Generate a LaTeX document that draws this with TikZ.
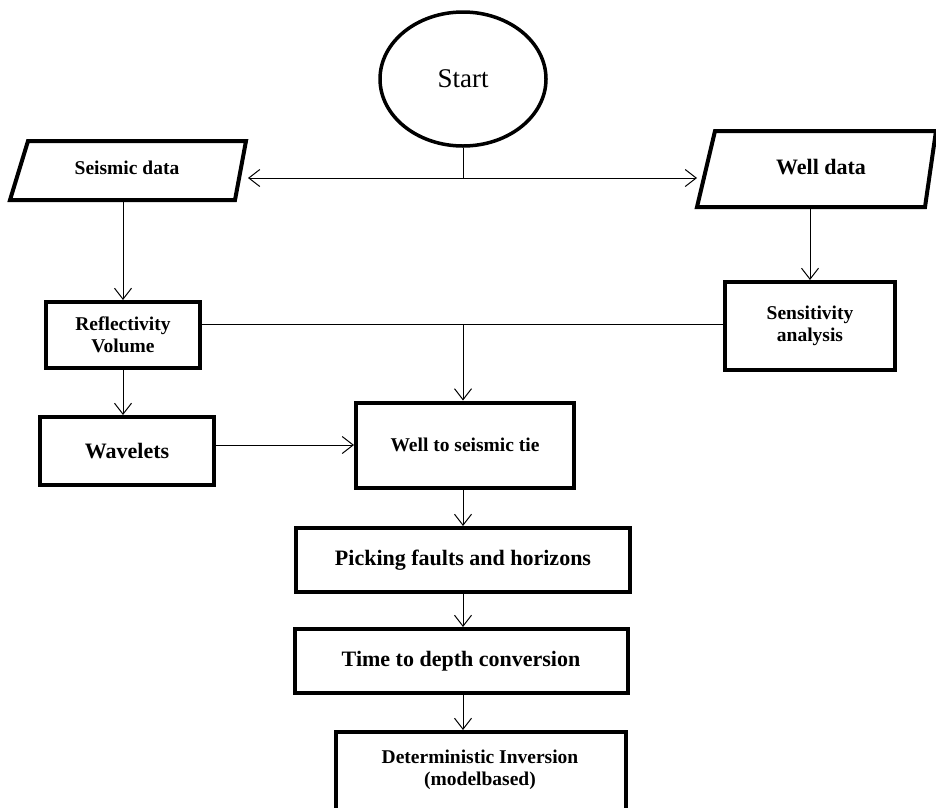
\documentclass[tikz,border=0pt]{standalone}
\usepackage{fontspec}
\setmainfont{Liberation Serif}
\usetikzlibrary{arrows.meta,shapes.geometric}
\tikzset{
  box/.style={draw, line width=4pt, rectangle, align=center, font=\bfseries, inner sep=0pt},
  conn/.style={line width=1pt, -{Straight Barb[length=11pt,width=17pt,line width=1pt]}},
  plain/.style={line width=1pt},
  para/.style={line width=4pt},
}
\begin{document}
\begin{tikzpicture}[x=1pt,y=-1pt]
\useasboundingbox (0,0) rectangle (936,807);
% Start
\node[draw, line width=3.5pt, ellipse, minimum width=166pt, minimum height=134pt, font=\fontsize{27}{29}\selectfont] (start) at (463,79) {Start};
% parallelograms
\draw[para] (28,141) -- (246,141) -- (235,200) -- (10,200) -- cycle;
\node[font=\bfseries\fontsize{19.5}{21}\selectfont] (seis) at (127,168) {Seismic data};
\coordinate (seisR) at (248,178);
\coordinate (seisB) at (123,200);
\draw[para] (715,131) -- (936,131) -- (925,207) -- (697,207) -- cycle;
\node[font=\bfseries\fontsize{22}{24}\selectfont] (well) at (821,167) {Well data};
\coordinate (wellL) at (697,178);
\coordinate (wellB) at (810,207);
% boxes
\node[box, minimum width=154pt, minimum height=66pt, font=\bfseries\fontsize{19.5}{22}\selectfont] (refl) at (123,335) {Reflectivity\\Volume};
\node[box, minimum width=170pt, minimum height=88pt, font=\bfseries\fontsize{19.5}{22}\selectfont] (sens) at (810,326) {Sensitivity\\analysis};
\node[box, minimum width=174pt, minimum height=68pt, font=\bfseries\fontsize{22}{24}\selectfont] (wav) at (127,451) {Wavelets};
\node[box, minimum width=218pt, minimum height=85pt, font=\bfseries\fontsize{19.5}{22}\selectfont] (tie) at (465,445) {Well to seismic tie};
\node[box, minimum width=334pt, minimum height=64pt, font=\bfseries\fontsize{22}{24}\selectfont] (pick) at (463,560) {Picking faults and horizons};
\node[box, minimum width=333pt, minimum height=64pt, font=\bfseries\fontsize{22}{24}\selectfont] (tdc) at (461,661) {Time to depth conversion};
\node[box, minimum width=290pt, minimum height=84pt, anchor=north] (det) at (481,730) {};
\node[font=\bfseries\fontsize{19.5}{22}\selectfont, align=center] (dettext) at (480,770) {Deterministic Inversion\\(modelbased)};
% connectors
\coordinate (split) at (463,178);
\draw[plain] (start.south) -- (split);
\draw[conn] (split) -- (seisR);
\draw[conn] (split) -- (wellL);
\draw[conn] (seisB) -- (refl.north -| seisB);
\draw[conn] (wellB) -- (sens.north -| wellB);
\coordinate (join) at (463,324);
\draw[plain] (refl.east |- join) -- (sens.west |- join);
\draw[conn] (join) -- (tie.north -| join);
\draw[conn] (refl.south) -- (wav.north -| refl.south);
\draw[conn] (wav.east |- 0,445) -- (tie.west |- 0,445);
\draw[conn] (tie.south -| 463,0) -- (pick.north -| 463,0);
\draw[conn] (pick.south -| 463,0) -- (tdc.north -| 463,0);
\draw[conn] (tdc.south -| 463,0) -- (det.north -| 463,0);
\end{tikzpicture}
\end{document}
